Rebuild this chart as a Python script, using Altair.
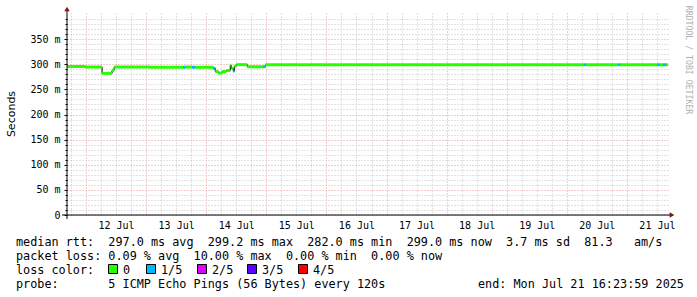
import altair as alt
import pandas as pd

# ---------------- data (time = day of July 2025, decimal; value in ms) -------------
T0, T1 = 11.6833, 21.6833          # 11 Jul 16:24 .. 21 Jul 16:24
YMAX = 402

seg_start = [11.683, 11.983, 12.267, 12.433, 12.467, 13.067, 13.617, 13.650, 13.767, 13.817,
             14.117, 14.150, 14.200, 14.267, 14.333, 14.400, 14.417, 14.450, 14.467, 14.500,
             14.683, 14.950, 14.983, 20.283, 20.317, 20.850, 20.883, 21.500, 21.550, 21.600,
             21.650]
seg_end = seg_start[1:] + [21.683]
seg_ms = [295.5, 294.5, 282.0, 288.0, 294.5, 294.0, 294.0, 294.5, 294.0, 294.0,
          292.0, 285.5, 282.5, 285.5, 287.5, 298.0, 292.0, 286.0, 296.0, 299.2,
          295.0, 295.0, 299.0, 299.0, 299.0, 299.0, 299.0, 299.0, 299.0, 299.0,
          299.0]
seg_loss = ["0", "0", "0", "0", "0", "0", "1/5", "0", "1/5", "0",
            "1/5", "0", "0", "0", "0", "0", "0", "1/5", "0", "0",
            "0", "1/5", "0", "1/5", "0", "1/5", "0", "1/5", "0", "1/5",
            "0"]

loss_labels = ["0", "1/5", "2/5", "3/5", "4/5"]
loss_colors = ["#26ff00", "#00b8ff", "#dd00ff", "#5e00ff", "#ff0000"]

y_major = [0, 50, 100, 150, 200, 250, 300, 350]
y_minor = [v for v in range(10, 400, 10) if v % 50]
x_major = list(range(12, 22))
x_minor = [d + q for d in range(11, 22) for q in (0.25, 0.5, 0.75) if T0 <= d + q <= T1]

row1 = "median rtt:  297.0 ms avg  299.2 ms max  282.0 ms min  299.0 ms now  3.7 ms sd  81.3   am/s"
row2 = "packet loss: 0.09 % avg  10.00 % max  0.00 % min  0.00 % now"
row3 = "loss color:"
row4 = "probe:       5 ICMP Echo Pings (56 Bytes) every 120s"
end_text = "end: Mon Jul 21 16:23:59 2025"
y_title = "Seconds"
watermark = "RRDTOOL / TOBI OETIKER"

# ---------------- layout ----------------
W, H = 601, 202
PL, PT = 67, 13
MONO = "DejaVu Sans Mono"
GRID_MINOR = "#c4c4c4"
GRID_MAJOR = "#eb9a9a"
ARROW = "#7a1a1a"


def nb(s):
    return s.replace(" ", "\u00a0")


df = pd.DataFrame({"start": seg_start, "end": seg_end, "ms": seg_ms, "loss": seg_loss})
step_df = pd.DataFrame({"t": seg_start + [seg_end[-1]], "ms": seg_ms + [seg_ms[-1]]})
one = pd.DataFrame({"k": [0]})

xs = alt.Scale(domain=[T0, T1], nice=False, zero=False)
ys = alt.Scale(domain=[0, YMAX], nice=False)

minor_grid = alt.Chart(step_df).mark_point(opacity=0).encode(
    x=alt.X("t:Q", scale=xs, axis=alt.Axis(orient="top", values=x_minor, grid=True,
            gridColor=GRID_MINOR, gridDash=[1, 2], labels=False, ticks=False,
            domain=False, title=None)),
    y=alt.Y("ms:Q", scale=ys, axis=alt.Axis(orient="right", values=y_minor, grid=True,
            gridColor=GRID_MINOR, gridDash=[1, 2], labels=False, ticks=False,
            domain=False, title=None)),
)

minor_ticks = alt.Chart(step_df).mark_point(opacity=0).encode(
    x=alt.X("t:Q", scale=xs, axis=None),
    y=alt.Y("ms:Q", scale=ys, axis=alt.Axis(orient="left", values=y_minor, grid=False,
            labels=False, ticks=True, tickSize=2, tickColor="#000000",
            domain=False, title=None)),
)

step_line = alt.Chart(step_df).mark_line(interpolate="step-after", color="#000000",
                                         strokeWidth=1).encode(
    x=alt.X("t:Q", scale=xs, axis=None),
    y=alt.Y("ms:Q", scale=ys, axis=None),
)

median = alt.Chart(df).mark_rule(strokeWidth=3, strokeCap="butt").encode(
    x=alt.X("start:Q", scale=xs, axis=alt.Axis(
        orient="bottom", values=x_major, grid=True, gridColor=GRID_MAJOR, gridDash=[1, 2],
        labelExpr="floor(datum.value) + ' Jul'", labelOffset=30, labelPadding=5,
        labelFont=MONO, labelFontSize=10, labelColor="#000000", labelFlush=False,
        labelOverlap=False, labelBaseline="top", ticks=False, domain=False, title=None)),
    x2="end:Q",
    y=alt.Y("ms:Q", scale=ys, axis=alt.Axis(
        orient="left", values=y_major, grid=True, gridColor=GRID_MAJOR, gridDash=[1, 2],
        labelExpr="datum.value == 0 ? '0\u00a0\u00a0' : datum.value + '\u00a0m'",
        labelFont=MONO, labelFontSize=10, labelColor="#000000", labelFlush=False,
        labelOverlap=False, labelPadding=4, ticks=True, tickSize=3, tickColor="#000000",
        domain=False, title=None)),
    color=alt.Color("loss:N", scale=alt.Scale(domain=loss_labels, range=loss_colors),
                    legend=None),
)

# axis lines with arrows
x_axis_line = alt.Chart(one).mark_rule(color="#000000", strokeWidth=1).encode(
    x=alt.value(-5), x2=alt.value(604), y=alt.value(H))
y_axis_line = alt.Chart(one).mark_rule(color="#000000", strokeWidth=1).encode(
    x=alt.value(0), y=alt.value(H + 4), y2=alt.value(-3))
arrow_up = alt.Chart(one).mark_point(shape="triangle-up", filled=True, color=ARROW,
                                     size=30, opacity=1).encode(
    x=alt.value(0), y=alt.value(-4))
arrow_right = alt.Chart(one).mark_point(shape="triangle-right", filled=True, color=ARROW,
                                        size=30, opacity=1).encode(
    x=alt.value(605), y=alt.value(H))

title_txt = alt.Chart(one).mark_text(text=y_title, angle=270, font="DejaVu Sans",
                                     fontSize=11, color="#000000", align="center",
                                     baseline="middle").encode(
    x=alt.value(11.5 - PL), y=alt.value(114 - PT))
wm_txt = alt.Chart(one).mark_text(text=nb(watermark), angle=90, font=MONO, fontSize=8.2,
                                  color="#b0b0b0", align="center",
                                  baseline="middle").encode(
    x=alt.value(687.5 - PL), y=alt.value(60 - PT))

LX = 16 - PL
FS = 11.8
rows = []
for txt, base in [(row1, 245.5), (row2, 259.5), (row3, 273.5), (row4, 287.5)]:
    rows.append(alt.Chart(one).mark_text(text=nb(txt), font=MONO, fontSize=FS,
                                         color="#000000", align="left",
                                         baseline="alphabetic").encode(
        x=alt.value(LX), y=alt.value(base - PT)))
rows.append(alt.Chart(one).mark_text(text=nb(end_text), font=MONO, fontSize=FS,
                                     color="#000000", align="left",
                                     baseline="alphabetic").encode(
    x=alt.value(478 - PL), y=alt.value(287.5 - PT)))

box_x = [108, 146, 197, 247, 298]
for lab, col, bx in zip(loss_labels, loss_colors, box_x):
    rows.append(alt.Chart(one).mark_rect(fill=col, stroke="#000000", strokeWidth=1).encode(
        x=alt.value(bx - PL + 0.5), x2=alt.value(bx - PL + 9.5),
        y=alt.value(264.5 - PT), y2=alt.value(273.5 - PT)))
    rows.append(alt.Chart(one).mark_text(text=lab, font=MONO, fontSize=FS, color="#000000",
                                         align="left", baseline="alphabetic").encode(
        x=alt.value(bx + 15 - PL), y=alt.value(273.5 - PT)))

chart = alt.layer(
    minor_grid, minor_ticks, step_line, median,
    x_axis_line, y_axis_line, arrow_up, arrow_right, title_txt, wm_txt, *rows
).resolve_axis(x="independent", y="independent").properties(
    width=W, height=H,
    autosize=alt.AutoSizeParams(type="none"),
    padding={"left": PL, "top": PT, "right": 697 - PL - W, "bottom": 297 - PT - H},
    background="#ffffff",
).configure_view(stroke=None)

chart.save("out.html", embed_options={"renderer": "svg", "actions": False})
